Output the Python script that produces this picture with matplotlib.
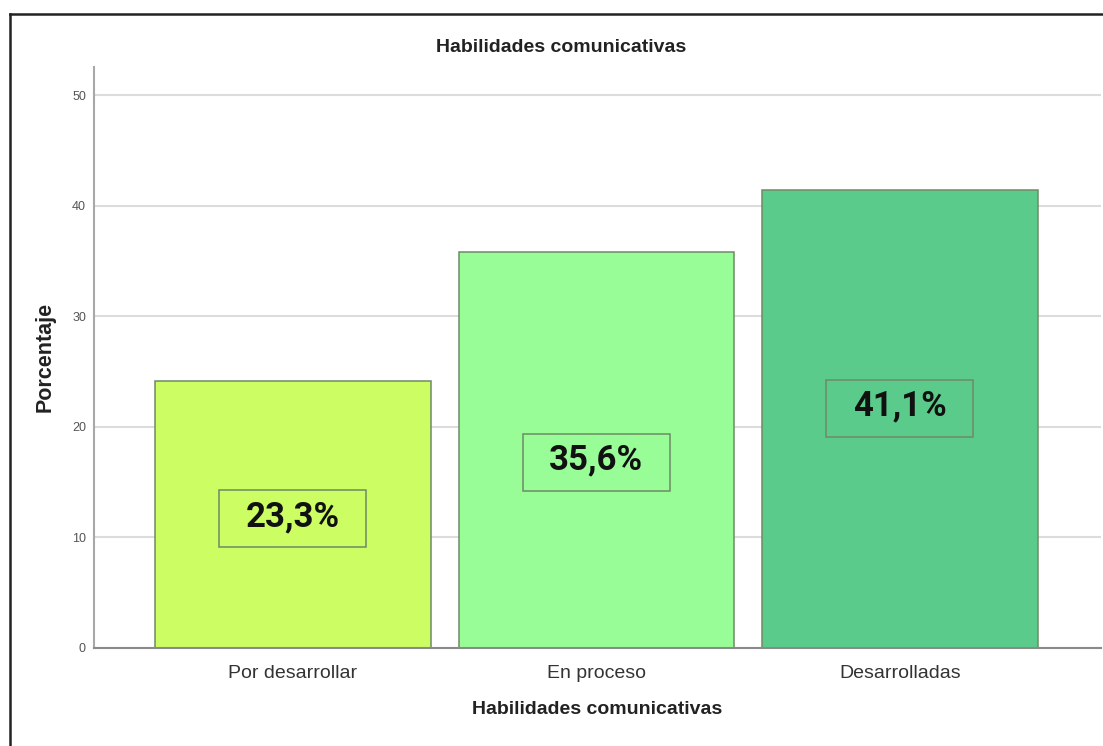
import matplotlib.pyplot as plt
from matplotlib.patches import Rectangle
from matplotlib.lines import Line2D

# data
categories = ['Por desarrollar', 'En proceso', 'Desarrolladas']
bar_heights = [24.2, 35.8, 41.4]
label_texts = ['23,3%', '35,6%', '41,1%']
y_ticks = [0, 10, 20, 30, 40, 50]

# layout / style
bar_colors = ['#ccfd63', '#98fd97', '#5acb8b']
edge_color = '#6f8a66'
label_y = [11.7, 16.8, 21.7]
box_w, box_h = 0.484, 5.15

fig = plt.figure(figsize=(11.03, 7.46), dpi=100)
ax = fig.add_axes([0.0855, 0.1314, 0.9125, 0.7792])

x = list(range(len(categories)))

# gridlines behind bars
ax.set_axisbelow(True)
ax.yaxis.grid(True, color='#dcdcdc', linewidth=1.5)

ax.bar(x, bar_heights, width=0.908, color=bar_colors, edgecolor=edge_color, linewidth=1.1)

# value boxes
for i, txt in enumerate(label_texts):
    rect = Rectangle((i - box_w / 2, label_y[i] - box_h / 2), box_w, box_h,
                     facecolor=bar_colors[i], edgecolor=edge_color, linewidth=1.1, zorder=3)
    ax.add_patch(rect)
    ax.text(i, label_y[i] + 0.2, txt, ha='center', va='center', fontsize=25,
            fontfamily='Roboto', fontweight='bold', color='#111111', zorder=4)

ax.set_xlim(-0.654, 2.662)
ax.set_ylim(0, 52.6)
ax.set_yticks(y_ticks)
ax.set_yticklabels([str(t) for t in y_ticks], fontsize=9, color='#555555',
                   fontfamily='Liberation Sans')
ax.set_xticks(x)
ax.set_xticklabels(categories, fontsize=14, color='#333333', fontfamily='Liberation Sans')
ax.tick_params(axis='both', length=0)
ax.tick_params(axis='x', pad=12)
ax.tick_params(axis='y', pad=6)

for side in ['top', 'right']:
    ax.spines[side].set_visible(False)
ax.spines['left'].set_color('#a8a8a8')
ax.spines['left'].set_linewidth(1.5)
ax.spines['bottom'].set_color('#8a8a8a')
ax.spines['bottom'].set_linewidth(1.5)

ax.set_xlabel('Habilidades comunicativas', fontsize=14, fontweight='bold',
              fontfamily='Liberation Sans', color='#222222', labelpad=14)
ax.set_ylabel('Porcentaje', fontsize=15.5, fontweight='bold',
              fontfamily='Liberation Sans', color='#222222', labelpad=12)

fig.text(561 / 1103, 1 - 47 / 746, 'Habilidades comunicativas', ha='center', va='center',
         fontsize=14, fontweight='bold', fontfamily='Liberation Sans', color='#222222')

# dark frame on left and top edges
fig.add_artist(Line2D([9.5 / 1103, 9.5 / 1103], [0, 1 - 14 / 746], color='#222222', linewidth=1.8))
fig.add_artist(Line2D([9.5 / 1103, 1], [1 - 14 / 746, 1 - 14 / 746], color='#222222', linewidth=1.8))

fig.savefig('out.png', dpi=100)
